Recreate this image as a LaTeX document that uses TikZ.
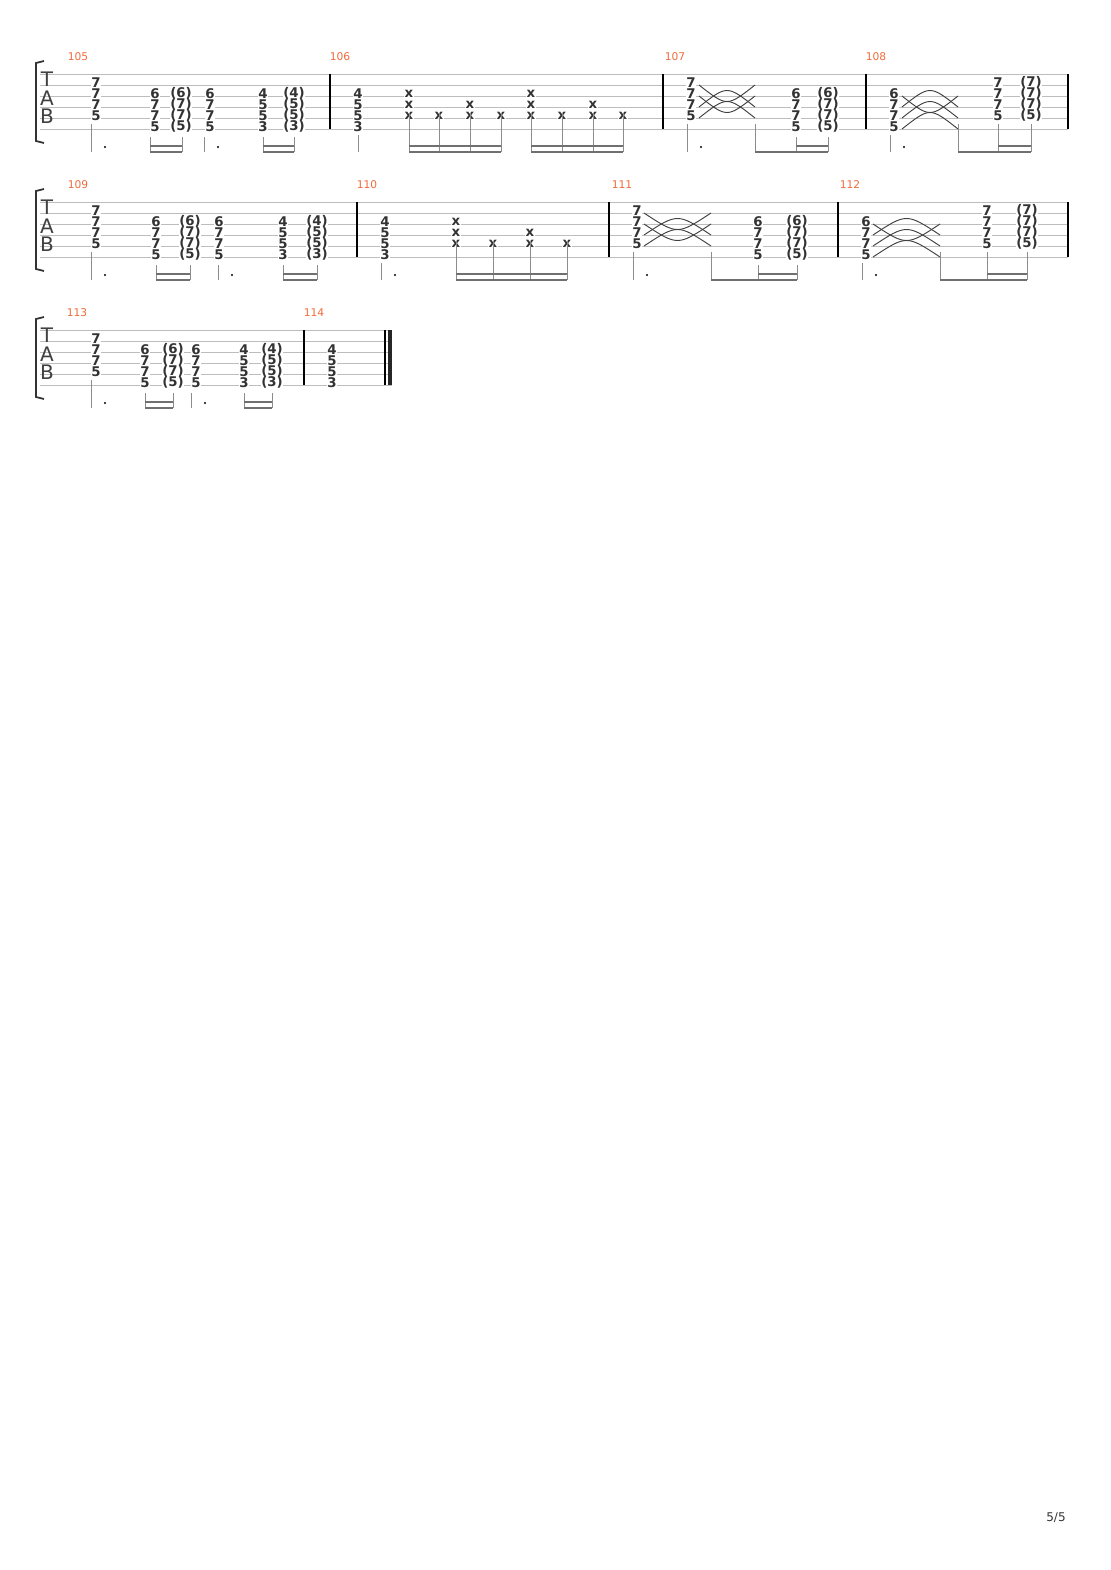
\documentclass[tikz,border=0pt]{standalone}
\usepackage{fontspec}
\setmainfont{DejaVu Sans}
\usepackage{xcolor}
\definecolor{barnum}{HTML}{F26B3A}
\definecolor{staffgray}{HTML}{BDBDBD}
\definecolor{stemgray}{HTML}{8C8C8C}
\usepackage{tikz}

% fret numbers of a chord, on strings from #3 down
\newcommand\chd[4]{\foreach \f [count=\k from #3] in {#4}{
  \node[fret] (c-#1-\k) at (#1,#2+11*\k-2.5) {\f};}}
\newcommand\pchd[4]{\foreach \f [count=\k from #3] in {#4}{
  \node[fret] (p-#1-\k) at (#1,#2+11*\k-2.5) {(\f)};}}
% a staff of six lines
\newcommand\staff[2]{\foreach \s in {0,...,5}{
  \draw[string] (40,#1+11*\s) -- (#2,#1+11*\s);}
  \node[tab] (t-#1) at (47,#1+5) {T};
  \node[tab] (a-#1) at (47,#1+24) {A};
  \node[tab] (b-#1) at (47,#1+42) {B};
  \draw[brack] (44,#1-13) -- (36,#1-11) -- (36,#1+67) -- (44,#1+69);}
% a slide arc from x #1 to #2, from level #3 bending to #4 (y0 #5)
\newcommand\slarc[5]{\draw[slide] (#1,#5+#3) .. controls ({(#1+#2)/2},{#5+#3+2*(#4-#3)}) .. (#2,#5+#3);}
\newcommand\stm[3]{\draw[stem] (#1,#3) -- (#1,#2+78);}
\newcommand\bm[3]{\draw[beam] (#1,#3+78) -- (#2,#3+78);}
\newcommand\bmm[3]{\draw[beam] (#1,#3+72) -- (#2,#3+72);}
\newcommand\dt[2]{\fill[black] (#1,#2+73) circle (1.2);}

\begin{document}
\begin{tikzpicture}[x=0.75pt,y=-0.75pt,
    string/.style={draw=staffgray,line width=0.6pt},
    bar/.style={draw=black,line width=0.8pt},
    brack/.style={draw=black!80,line width=1.3pt},
    stem/.style={draw=stemgray,line width=0.6pt},
    beam/.style={draw=stemgray!80!black,line width=1.6pt},
    slide/.style={draw=black!75,line width=0.7pt},
    fret/.style={font=\fontsize{10}{10}\selectfont\bfseries,text=black!80,
      fill=white,inner sep=0.2pt},
    tab/.style={font=\fontsize{15}{15}\selectfont,text=black!75,inner sep=0pt},
    barno/.style={font=\fontsize{8}{8}\selectfont,text=barnum,inner sep=0pt}]
\useasboundingbox[fill=white] (0,0) rectangle (1110,1570);

%% system 1
\staff{74}{1068}
\foreach \x/\n in {78/105,340/106,675/107,876/108}{
  \node[barno] (m\n) at (\x,57) {\n};}
\foreach \x in {330,663,866,1068}{\draw[bar] (\x,74) -- (\x,129);}
% 105
\chd{96}{74}{1}{7,7,7,5} \chd{155}{74}{2}{6,7,7,5} \pchd{181}{74}{2}{6,7,7,5}
\chd{210}{74}{2}{6,7,7,5} \chd{263}{74}{2}{4,5,5,3} \pchd{294}{74}{2}{4,5,5,3}
\stm{91}{74}{124} \dt{105}{74} \stm{150}{74}{137} \stm{182}{74}{137} \bm{150}{182}{74} \bmm{150}{182}{74}
\stm{204}{74}{137} \dt{218}{74} \stm{263}{74}{137} \stm{294}{74}{137} \bm{263}{294}{74} \bmm{263}{294}{74}
% 106
\chd{358}{74}{2}{4,5,5,3} \stm{358}{74}{135}
\chd{409}{74}{2}{x,x,x} \chd{439}{74}{4}{x} \chd{470}{74}{3}{x,x} \chd{501}{74}{4}{x}
\chd{531}{74}{2}{x,x,x} \chd{562}{74}{4}{x} \chd{593}{74}{3}{x,x} \chd{623}{74}{4}{x}
\foreach \x in {409,439,470,501,531,562,593,623}{\stm{\x}{74}{113}}
\bm{409}{501}{74} \bmm{409}{501}{74} \bm{531}{623}{74} \bmm{531}{623}{74}
% 107
\chd{691}{74}{1}{7,7,7,5} \pchd{828}{74}{2}{6,7,7,5} \chd{796}{74}{2}{6,7,7,5}
\slarc{699}{755}{11}{22}{74} \slarc{699}{755}{33}{22}{74} \slarc{699}{755}{22}{33}{74} \slarc{699}{755}{44}{33}{74}
\stm{687}{74}{124} \dt{701}{74} \stm{755}{74}{124} \stm{796}{74}{137} \stm{828}{74}{137}
\bm{755}{828}{74} \bmm{796}{828}{74}
% 108
\chd{894}{74}{2}{6,7,7,5} \chd{998}{74}{1}{7,7,7,5} \pchd{1031}{74}{1}{7,7,7,5}
\slarc{902}{958}{22}{33}{74} \slarc{902}{958}{33}{22}{74} \slarc{902}{958}{44}{33}{74} \slarc{902}{958}{55}{44}{74}
\stm{890}{74}{135} \dt{904}{74} \stm{958}{74}{124} \stm{998}{74}{124} \stm{1031}{74}{124}
\bm{958}{1031}{74} \bmm{998}{1031}{74}

%% system 2
\staff{202}{1068}
\foreach \x/\n in {78/109,367/110,622/111,850/112}{
  \node[barno] (m\n) at (\x,185) {\n};}
\foreach \x in {357,609,838,1068}{\draw[bar] (\x,202) -- (\x,257);}
% 109
\chd{96}{202}{1}{7,7,7,5} \chd{156}{202}{2}{6,7,7,5} \pchd{190}{202}{2}{6,7,7,5}
\chd{219}{202}{2}{6,7,7,5} \chd{283}{202}{2}{4,5,5,3} \pchd{317}{202}{2}{4,5,5,3}
\stm{91}{202}{252} \dt{105}{202} \stm{156}{202}{265} \stm{190}{202}{265} \bm{156}{190}{202} \bmm{156}{190}{202}
\stm{218}{202}{265} \dt{232}{202} \stm{283}{202}{265} \stm{317}{202}{265} \bm{283}{317}{202} \bmm{283}{317}{202}
% 110
\chd{385}{202}{2}{4,5,5,3} \stm{381}{202}{263} \dt{395}{202}
\chd{456}{202}{2}{x,x,x} \chd{493}{202}{4}{x} \chd{530}{202}{3}{x,x} \chd{567}{202}{4}{x}
\foreach \x in {456,493,530,567}{\stm{\x}{202}{241}}
\bm{456}{567}{202} \bmm{456}{567}{202}
% 111
\chd{637}{202}{1}{7,7,7,5} \chd{758}{202}{2}{6,7,7,5} \pchd{797}{202}{2}{6,7,7,5}
\slarc{644}{711}{11}{22}{202} \slarc{644}{711}{33}{22}{202} \slarc{644}{711}{22}{33}{202} \slarc{644}{711}{44}{33}{202}
\stm{633}{202}{252} \dt{647}{202} \stm{711}{202}{252} \stm{758}{202}{265} \stm{797}{202}{265}
\bm{711}{797}{202} \bmm{758}{797}{202}
% 112
\chd{866}{202}{2}{6,7,7,5} \chd{987}{202}{1}{7,7,7,5} \pchd{1027}{202}{1}{7,7,7,5}
\slarc{873}{940}{22}{33}{202} \slarc{873}{940}{33}{22}{202} \slarc{873}{940}{44}{33}{202} \slarc{873}{940}{55}{44}{202}
\stm{862}{202}{263} \dt{876}{202} \stm{940}{202}{252} \stm{987}{202}{252} \stm{1027}{202}{252}
\bm{940}{1027}{202} \bmm{987}{1027}{202}

%% system 3
\staff{330}{392}
\foreach \x/\n in {77/113,314/114}{
  \node[barno] (m\n) at (\x,313) {\n};}
\draw[bar] (304,330) -- (304,385);
\draw[bar] (385,330) -- (385,385);
\fill[black!85] (388,330) rectangle (392,385);
% 113
\chd{96}{330}{1}{7,7,7,5} \chd{145}{330}{2}{6,7,7,5} \pchd{173}{330}{2}{6,7,7,5}
\chd{196}{330}{2}{6,7,7,5} \chd{244}{330}{2}{4,5,5,3} \pchd{272}{330}{2}{4,5,5,3}
\stm{91}{330}{380} \dt{105}{330} \stm{145}{330}{393} \stm{173}{330}{393} \bm{145}{173}{330} \bmm{145}{173}{330}
\stm{191}{330}{393} \dt{205}{330} \stm{244}{330}{393} \stm{272}{330}{393} \bm{244}{272}{330} \bmm{244}{272}{330}
% 114
\chd{332}{330}{2}{4,5,5,3}

\node[font=\fontsize{9}{9}\selectfont,text=black!80] (page) at (1056,1518) {5/5};
\end{tikzpicture}
\end{document}
